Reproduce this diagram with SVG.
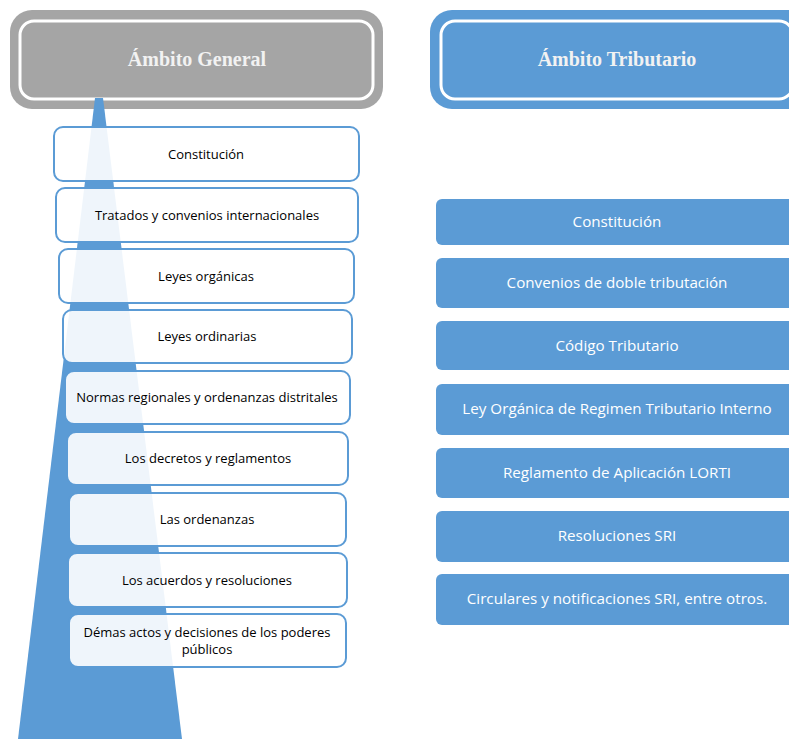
<svg xmlns="http://www.w3.org/2000/svg" width="789" height="739" viewBox="0 0 789 739">
<style>
.hdr{font-family:"Liberation Serif",serif;font-weight:bold;font-size:20px;fill:#f2f2f2;text-anchor:middle}
.lb{fill:#ffffff;fill-opacity:0.9;stroke:#5b9bd5;stroke-width:2}
.lt{font-family:"Open Sans","Liberation Sans",sans-serif;font-size:13px;fill:#000;text-anchor:middle}
.rb{fill:#5b9bd5}
.rt{font-family:"Open Sans","Liberation Sans",sans-serif;font-size:15.2px;fill:#ffffff;text-anchor:middle}
</style>
<rect width="789" height="739" fill="#ffffff"/>
<g id="header-general">
<rect x="10" y="10" width="373" height="99" rx="22" fill="#a5a5a5"/>
<rect x="20" y="21" width="353" height="78" rx="14" fill="none" stroke="#ffffff" stroke-width="3"/>
<text class="hdr" x="197" y="66">Ámbito General</text>
</g>
<g id="header-tributario">
<rect x="430" y="10" width="380" height="99" rx="22" fill="#5b9bd5"/>
<rect x="441" y="21" width="352" height="78" rx="14" fill="none" stroke="#ffffff" stroke-width="3"/>
<text class="hdr" x="617" y="66">Ámbito Tributario</text>
</g>
<g id="pyramid">
<polygon points="95,98 103,98 182,739 18,739" fill="#5b9bd5"/>
</g>
<g id="general-list">
<g id="g1"><rect class="lb" x="54" y="127" width="305" height="54" rx="9"/><text class="lt" x="206" y="159">Constitución</text></g>
<g id="g2"><rect class="lb" x="56" y="188" width="302" height="54" rx="9"/><text class="lt" x="207" y="220">Tratados y convenios internacionales</text></g>
<g id="g3"><rect class="lb" x="59" y="249" width="295" height="54" rx="9"/><text class="lt" x="206" y="281">Leyes orgánicas</text></g>
<g id="g4"><rect class="lb" x="63" y="310" width="289" height="53" rx="9"/><text class="lt" x="207" y="341">Leyes ordinarias</text></g>
<g id="g5"><rect class="lb" x="65" y="371" width="285" height="53" rx="9"/><text class="lt" x="207" y="402">Normas regionales y ordenanzas distritales</text></g>
<g id="g6"><rect class="lb" x="67" y="432" width="281" height="53" rx="9"/><text class="lt" x="208" y="463">Los decretos y reglamentos</text></g>
<g id="g7"><rect class="lb" x="69" y="493" width="277" height="53" rx="9"/><text class="lt" x="207" y="524">Las ordenanzas</text></g>
<g id="g8"><rect class="lb" x="68" y="553" width="279" height="54" rx="9"/><text class="lt" x="207" y="585">Los acuerdos y resoluciones</text></g>
<g id="g9"><rect class="lb" x="69" y="614" width="277" height="53" rx="9"/><text class="lt" x="207" y="637">Démas actos y decisiones de los poderes</text><text class="lt" x="207" y="654">públicos</text></g>
</g>
<g id="tributario-list">
<g id="t1"><rect class="rb" x="436" y="199" width="370" height="46" rx="6"/><text class="rt" x="617" y="227">Constitución</text></g>
<g id="t2"><rect class="rb" x="436" y="258" width="370" height="50" rx="6"/><text class="rt" x="617" y="288">Convenios de doble tributación</text></g>
<g id="t3"><rect class="rb" x="436" y="321" width="370" height="49" rx="6"/><text class="rt" x="617" y="351">Código Tributario</text></g>
<g id="t4"><rect class="rb" x="436" y="384" width="370" height="51" rx="6"/><text class="rt" x="617" y="414">Ley Orgánica de Regimen Tributario Interno</text></g>
<g id="t5"><rect class="rb" x="436" y="448" width="370" height="50" rx="6"/><text class="rt" x="617" y="478">Reglamento de Aplicación LORTI</text></g>
<g id="t6"><rect class="rb" x="436" y="511" width="370" height="51" rx="6"/><text class="rt" x="617" y="541">Resoluciones SRI</text></g>
<g id="t7"><rect class="rb" x="436" y="574" width="370" height="51" rx="6"/><text class="rt" x="617" y="604">Circulares y notificaciones SRI, entre otros.</text></g>
</g>
</svg>
